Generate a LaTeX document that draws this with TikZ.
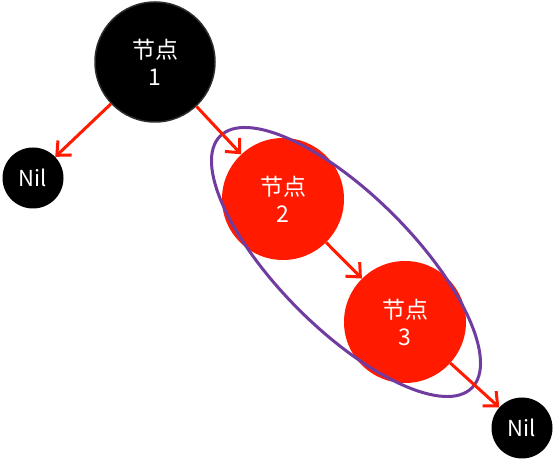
\documentclass[tikz,border=0pt]{standalone}
\usepackage{fontspec}
\setmainfont{Noto Sans CJK SC}
\usetikzlibrary{arrows.meta}
\definecolor{nred}{RGB}{255,26,0}
\definecolor{npurple}{RGB}{112,60,160}
\definecolor{nrim}{RGB}{45,45,45}
\tikzset{
  blacknode/.style={circle,fill=black,draw=nrim,line width=1.5pt,minimum size=120pt,inner sep=0pt,text=white,font=\fontsize{23}{27}\selectfont,align=center},
  rednode/.style={circle,fill=nred,minimum size=122pt,inner sep=0pt,text=white,font=\fontsize{23}{27}\selectfont,align=center},
  nilnode/.style={circle,fill=black,minimum size=61pt,inner sep=0pt,text=white,font=\fontsize{22}{26}\selectfont},
  link/.style={draw=nred,line width=3pt,-{Straight Barb[length=11pt,width=20pt]}},
  group/.style={draw=npurple,line width=3pt}
}
\begin{document}
\begin{tikzpicture}[x=1pt,y=1pt]
\useasboundingbox (0,0) rectangle (554,460);
\node[blacknode] (n1) at (155,398) {节点\\1};
\node[nilnode] (nilL) at (33,282) {Nil};
\node[rednode] (n2) at (283,261) {节点\\2};
\node[rednode] (n3) at (405,138) {节点\\3};
\node[nilnode] (nilR) at (522,32) {Nil};
\draw[group] (346,198) ellipse[x radius=178, y radius=67, rotate=-45];
\draw[link] (n1) -- (nilL);
\draw[link] (n1) -- (n2);
\draw[link] (n2) -- (n3);
\draw[link] (n3) -- (nilR);
\end{tikzpicture}
\end{document}
